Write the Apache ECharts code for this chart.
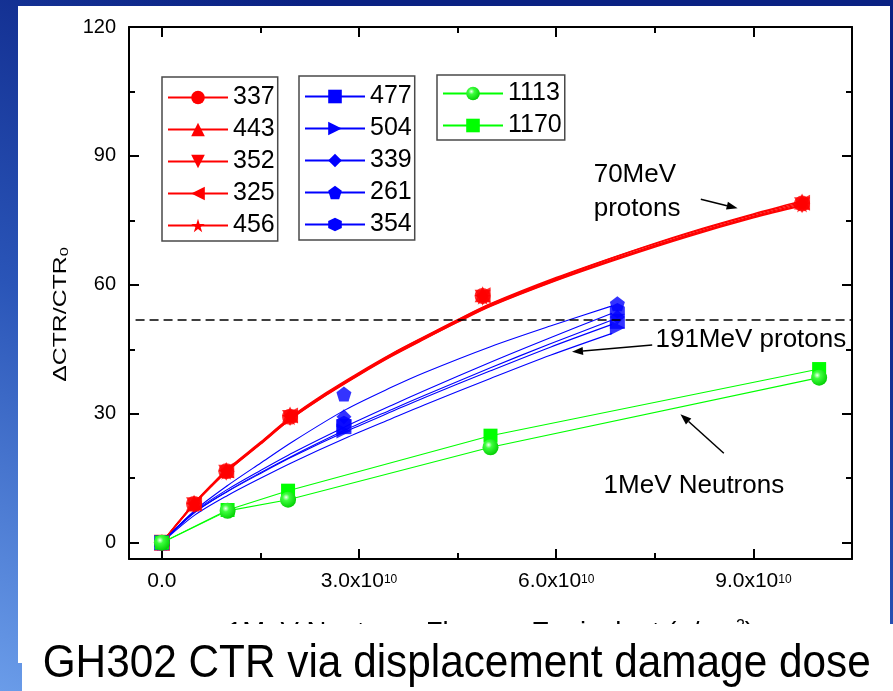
<!DOCTYPE html>
<html><head><meta charset="utf-8">
<script src="https://cdn.jsdelivr.net/npm/echarts@6/dist/echarts.min.js"></script>
<style>html,body{margin:0;padding:0;background:#fff}#c{width:893px;height:691px;}</style>
</head><body><div id="c"></div>
<script>
// ---------------- DATA (x in units of 1e10 n/cm^2) ----------------
const redX   = [0, 0.49, 0.98, 1.95, 4.88, 9.74];
const red337 = [0, 9.0, 16.6, 29.3, 57.4, 78.9];
const red443 = [0, 9.3, 16.9, 29.8, 57.8, 79.4];
const red352 = [0, 8.7, 16.3, 29.0, 57.0, 78.5];
const red325 = [0, 9.1, 16.8, 29.6, 57.6, 79.1];
const red456 = [0, 8.9, 16.5, 29.2, 57.2, 78.7];

const redFitX = [0, 0.25, 0.49, 0.75, 0.98, 1.5, 1.95, 2.5, 3, 3.5, 4, 4.5, 5, 6, 7, 8, 9, 9.74];
const fit337  = [0, 4.7, 9.0, 13.2, 16.6, 23.1, 28.8, 34.6, 39.3, 43.7, 47.7, 51.6, 55.3, 61.3, 66.7, 71.6, 76.0, 78.9];
const fit443  = [0, 4.8, 9.2, 13.4, 16.9, 23.4, 29.1, 34.9, 39.6, 44.0, 48.0, 51.9, 55.6, 61.7, 67.1, 72.1, 76.5, 79.5];
const fit352  = [0, 4.6, 8.9, 13.0, 16.4, 22.9, 28.6, 34.3, 39.0, 43.4, 47.4, 51.3, 55.0, 61.0, 66.3, 71.2, 75.6, 78.4];
const fit325  = [0, 4.7, 9.1, 13.3, 16.7, 23.2, 29.0, 34.7, 39.4, 43.9, 47.9, 51.8, 55.5, 61.5, 67.0, 71.9, 76.3, 79.2];
const fit456  = [0, 4.6, 8.9, 13.1, 16.5, 23.0, 28.7, 34.4, 39.1, 43.5, 47.5, 51.4, 55.1, 61.1, 66.5, 71.4, 75.8, 78.6];

const blueX   = [0, 2.77, 6.93];
const blue477 = [0, 27.0, 51.5];
const blue504 = [0, 26.0, 50.0];
const blue339 = [0, 29.3, 52.5];
const blue261 = [0, 34.6, 55.6];
const blue354 = [0, 27.8, 54.0];

const blueFitX = [0, 0.5, 1, 1.5, 2, 2.79, 3.5, 4, 5, 5.91, 6.85];
const fit477   = [0, 7.0, 11.9, 16.1, 20.1, 25.8, 30.5, 33.8, 40.0, 45.5, 50.8];
const fit504   = [0, 6.4, 11.0, 15.0, 18.8, 24.3, 28.9, 32.1, 38.2, 43.6, 48.7];
const fit339   = [0, 7.1, 12.0, 16.3, 20.3, 26.2, 31.0, 34.3, 40.7, 46.3, 51.8];
const fit261   = [0, 7.5, 13.3, 18.5, 23.6, 30.9, 36.2, 39.6, 45.6, 50.4, 55.1];
const fit354   = [0, 7.3, 12.4, 16.8, 21.0, 27.0, 32.0, 35.4, 42.0, 47.7, 53.4];

const greenX    = [0, 1.0, 1.92, 5.0, 10.0];
const green1113 = [0, 7.4, 10.0, 22.2, 38.4];
const green1170 = [0, 7.6, 12.1, 24.9, 40.4];

const xTickValues = [0, 3, 6, 9];
const xTickLabels = ['0.0', '3.0x10^10', '6.0x10^10', '9.0x10^10'];
const xMinorTicks = [1.5, 4.5, 7.5];
const yTickValues = [0, 30, 60, 90, 120];
const yMinorTicks = [15, 45, 75, 105];
const thresholdLevel = 51.8;

const annotationTexts = [
  { text: '70MeV', x: 6.57, y: 85.6 },
  { text: 'protons', x: 6.57, y: 77.6 },
  { text: '191MeV protons', x: 7.51, y: 47.2 },
  { text: '1MeV Neutrons', x: 6.72, y: 13.2 }
];
const annotationArrows = [
  { from: [8.20, 79.9], to: [8.76, 77.8] },
  { from: [7.46, 46.0], to: [6.24, 44.4] },
  { from: [8.55, 20.8], to: [7.89, 29.9] }
];
const legendGroups = [
  ['337', '443', '352', '325', '456'],
  ['477', '504', '339', '261', '354'],
  ['1113', '1170']
];

// ---------------- STYLE ----------------
const FONT = '"Liberation Sans", Arial, Helvetica, sans-serif';
const RED = '#ff0000', BLUE = '#0000ff', GREEN = '#00ff00';
const STAR = 'path://M50,0L61.8,35.3L100,35.3L69.1,57.1L80.9,92.7L50,70.9L19.1,92.7L30.9,57.1L0,35.3L38.2,35.3Z';
const PENT = 'path://M50,0L100,38L81,100L19,100L0,38Z';
const HEX  = 'path://M50,0L93.3,25L93.3,75L50,100L6.7,75L6.7,25Z';
const GREEN_BALL = { type: 'radial', x: 0.38, y: 0.35, r: 0.7,
  colorStops: [{ offset: 0, color: '#f2fff2' }, { offset: 0.3, color: '#3dff3d' }, { offset: 1, color: '#00cc00' }] };

const pairs = (xs, ys) => xs.map((x, i) => [x, ys[i]]);

const redDefs = [
  { name: '337', symbol: 'circle', rotate: 0, pts: red337, fit: fit337 },
  { name: '443', symbol: 'triangle', rotate: 0, pts: red443, fit: fit443 },
  { name: '352', symbol: 'triangle', rotate: 180, pts: red352, fit: fit352 },
  { name: '325', symbol: 'triangle', rotate: 90, pts: red325, fit: fit325 },
  { name: '456', symbol: STAR, rotate: 0, pts: red456, fit: fit456 }
];
const blueDefs = [
  { name: '477', symbol: 'rect', rotate: 0, pts: blue477, fit: fit477 },
  { name: '504', symbol: 'triangle', rotate: -90, pts: blue504, fit: fit504 },
  { name: '339', symbol: 'diamond', rotate: 0, pts: blue339, fit: fit339 },
  { name: '261', symbol: PENT, rotate: 0, pts: blue261, fit: fit261 },
  { name: '354', symbol: HEX, rotate: 0, pts: blue354, fit: fit354 }
];

function fitSeries(d, color, fx, w) {
  return { type: 'line', name: d.name, data: pairs(fx, d.fit), symbol: d.symbol, symbolRotate: d.rotate,
    symbolSize: 14, showSymbol: false, smooth: 0.3, lineStyle: { color: color, width: w },
    itemStyle: { color: color }, z: 2, silent: true };
}
function ptSeries(d, color, px, size) {
  return { type: 'scatter', name: d.name + ' pts', data: pairs(px, d.pts), symbol: d.symbol,
    symbolRotate: d.rotate, symbolSize: size, itemStyle: { color: color }, z: 3, silent: true };
}

const series = [];
redDefs.forEach(d => series.push(fitSeries(d, RED, redFitX, 1.4)));
blueDefs.forEach(d => series.push(fitSeries(d, BLUE, blueFitX, 1.1)));
series[0].markLine = { silent: true, symbol: ['none', 'none'], label: { show: false },
  lineStyle: { color: '#000', width: 1.6, type: [9, 5] },
  data: [[{ coord: [-0.4, thresholdLevel] }, { coord: [10.5, thresholdLevel] }]] };
redDefs.forEach(d => series.push(ptSeries(d, RED, redX, 16)));
blueDefs.forEach(d => series.push(ptSeries(d, BLUE, blueX, 15)));
series.push({ type: 'line', name: '1170', data: pairs(greenX, green1170), symbol: 'rect', symbolSize: 14,
  showSymbol: true, lineStyle: { color: GREEN, width: 1.1 }, itemStyle: { color: GREEN }, z: 4, silent: true });
series.push({ type: 'line', name: '1113', data: pairs(greenX, green1113), symbol: 'circle', symbolSize: 16,
  showSymbol: true, lineStyle: { color: GREEN, width: 1.1 }, itemStyle: { color: GREEN_BALL }, z: 4, silent: true });

const axisLineStyle = { color: '#000', width: 2 };
function xAx(pos, ticks, len, showLine, showLabel) {
  return { type: 'value', position: pos, min: -0.5, max: 10.5, gridIndex: 0,
    axisLine: { show: showLine, onZero: false, lineStyle: axisLineStyle },
    axisTick: { show: true, inside: true, length: len, customValues: ticks, lineStyle: axisLineStyle },
    axisLabel: showLabel ? { show: true, customValues: xTickValues, margin: 12, color: '#000',
      formatter: function (v) {
        let idx = -1;
        xTickValues.forEach((t, i) => { if (Math.abs(t - v) < 1e-9) idx = i; });
        const t = idx >= 0 ? xTickLabels[idx] : '';
        const p = t.split('^');
        return p.length > 1 ? '{m|' + p[0] + '}{s|' + p[1] + '}' : '{z|' + t + '}';
      },
      rich: {
        z: { fontSize: 21, lineHeight: 21, fontFamily: FONT, color: '#000' },
        m: { fontSize: 21, lineHeight: 21, verticalAlign: 'bottom', fontFamily: FONT, color: '#000' },
        s: { fontSize: 12, lineHeight: 12, verticalAlign: 'top', padding: [3, 0, 11, 0], fontFamily: FONT, color: '#000' }
      } } : { show: false },
    splitLine: { show: false }
  };
}
function yAx(pos, ticks, len, showLine, showLabel) {
  return { type: 'value', position: pos, min: -3.8, max: 120, gridIndex: 0,
    axisLine: { show: showLine, onZero: false, lineStyle: axisLineStyle },
    axisTick: { show: true, inside: true, length: len, customValues: ticks, lineStyle: axisLineStyle },
    axisLabel: showLabel ? { show: true, customValues: yTickValues, margin: 13, fontSize: 20, color: '#000', fontFamily: FONT } : { show: false },
    splitLine: { show: false }
  };
}

const xMain = xAx('bottom', xTickValues, 10, true, true);
xMain.name = '{a|1MeV Neutrons Fluence Equivalent (n/cm}{s|2}{a|)}';
xMain.nameLocation = 'middle';
xMain.nameGap = 60;
xMain.nameTextStyle = { rich: {
  a: { fontSize: 27.5, lineHeight: 28, verticalAlign: 'bottom', fontFamily: FONT, color: '#000' },
  s: { fontSize: 16, lineHeight: 16, verticalAlign: 'top', fontFamily: FONT, color: '#000' } } };

const legendBase = { orient: 'vertical', selectedMode: false, itemWidth: 60, itemHeight: 17, itemGap: 7,
  backgroundColor: '#fff', borderColor: '#4a4a4a', borderWidth: 1.5,
  textStyle: { fontSize: 25, lineHeight: 25, color: '#000', fontFamily: FONT } };

const option = {
  animation: false,
  backgroundColor: '#ffffff',
  grid: { left: 129, right: 41, top: 27, bottom: 132, containLabel: false },
  legend: [
    Object.assign({}, legendBase, { left: 162, top: 77, padding: [8, 3, 3, 5], data: legendGroups[0] }),
    Object.assign({}, legendBase, { left: 299, top: 76, padding: [8, 3, 3, 5], data: legendGroups[1] }),
    Object.assign({}, legendBase, { left: 437, top: 75, padding: [6, 3, 2, 5], data: legendGroups[2] })
  ],
  xAxis: [ xMain, xAx('bottom', xMinorTicks, 6, false, false),
           xAx('top', xTickValues, 10, true, false), xAx('top', xMinorTicks, 6, false, false) ],
  yAxis: [ yAx('left', yTickValues, 10, true, true), yAx('left', yMinorTicks, 6, false, false),
           yAx('right', yTickValues, 10, true, false), yAx('right', yMinorTicks, 6, false, false) ],
  series: series
};

const chart = echarts.init(document.getElementById('c'), null, { renderer: 'canvas' });
chart.setOption(option);

// ---------------- frame, titles and annotations ----------------
const BG = { type: 'linear', x: 300, y: 0, x2: 0, y2: 691, global: true,
  colorStops: [{ offset: 0, color: '#0a2183' }, { offset: 0.5, color: '#2a55b8' }, { offset: 1, color: '#6a9ce9' }] };
const els = [
  { type: 'rect', shape: { x: 0, y: 0, width: 893, height: 6 }, style: { fill: BG }, z: 100, silent: true },
  { type: 'rect', shape: { x: 0, y: 0, width: 18, height: 691 }, style: { fill: BG }, z: 100, silent: true },
  { type: 'rect', shape: { x: 18, y: 663, width: 4, height: 28 }, style: { fill: BG }, z: 100, silent: true },
  { type: 'rect', shape: { x: 890, y: 0, width: 3, height: 624 }, style: { fill: BG }, z: 100, silent: true },
  { type: 'rect', shape: { x: 22, y: 624, width: 871, height: 67 }, style: { fill: '#fff' }, z: 100, silent: true },
  { type: 'text', x: 42.7, y: 664, scaleX: 0.92, z: 101, silent: true,
    style: { text: 'GH302 CTR via displacement damage dose', fontSize: 46, fontFamily: FONT, fill: '#000',
      align: 'left', verticalAlign: 'middle', textAlign: 'left', textVerticalAlign: 'middle' } },
  { type: 'text', x: 61, y: 314.5, rotation: Math.PI / 2, scaleX: 1.42, z: 50, silent: true,
    style: { text: '{a|\u0394CTR/CTR}{b|0}', align: 'center', verticalAlign: 'middle', textAlign: 'center', textVerticalAlign: 'middle',
      rich: { a: { fontSize: 17.5, lineHeight: 18, verticalAlign: 'top', fontFamily: FONT, fill: '#000' },
              b: { fontSize: 11.5, lineHeight: 12, verticalAlign: 'top', padding: [7, 0, 0, 0], fontFamily: FONT, fill: '#000' } } } }
];
annotationTexts.forEach(a => {
  const p = chart.convertToPixel({ seriesIndex: 0 }, [a.x, a.y]);
  els.push({ type: 'text', x: p[0], y: p[1], z: 50, silent: true,
    style: { text: a.text, fontSize: 26, fontFamily: FONT, fill: '#000', align: 'left', verticalAlign: 'middle',
      textAlign: 'left', textVerticalAlign: 'middle' } });
});
annotationArrows.forEach(a => {
  const p1 = chart.convertToPixel({ seriesIndex: 0 }, a.from);
  const p2 = chart.convertToPixel({ seriesIndex: 0 }, a.to);
  const dx = p2[0] - p1[0], dy = p2[1] - p1[1];
  const L = Math.sqrt(dx * dx + dy * dy);
  const ux = dx / L, uy = dy / L, nx = -uy, ny = ux;
  const hl = 11, hw = 4;
  const bx = p2[0] - ux * hl, by = p2[1] - uy * hl;
  els.push({ type: 'line', z: 50, silent: true, shape: { x1: p1[0], y1: p1[1], x2: bx, y2: by },
    style: { stroke: '#000', lineWidth: 1.5 } });
  els.push({ type: 'polygon', z: 50, silent: true,
    shape: { points: [[p2[0], p2[1]], [bx + nx * hw, by + ny * hw], [bx - nx * hw, by - ny * hw]] },
    style: { fill: '#000' } });
});
chart.setOption({ graphic: { elements: els } });
</script>
</body></html>
